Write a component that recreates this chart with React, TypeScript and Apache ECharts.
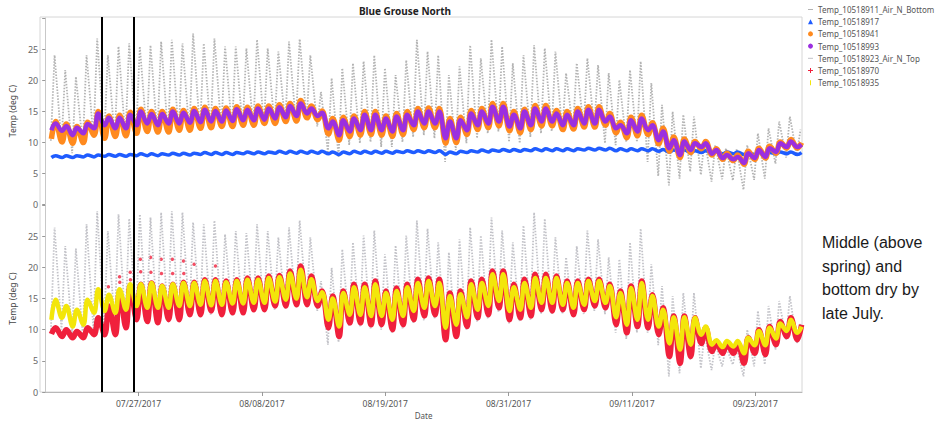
import React, { useEffect, useRef } from 'react';
import * as echarts from 'echarts';

// Day index: days since 07/18/2017 00:00. Daily values start on day 1 (07/19/2017).
const firstDay = 1;

// Top panel: Temp_10518911_Air_N_Bottom (air, grey)
const air911Max = [24.0,21.6,20.5,24.0,26.7,24.0,25.4,25.9,25.4,25.6, 26.2,26.5,25.9,27.5,25.9,26.7,25.4,25.4,25.1,26.5, 25.1,24.6,26.2,26.6,24.0,18.1,20.3,21.9,22.7,23.0, 24.0,21.9,20.8,23.2,26.5,24.6,24.0,20.8,22.2,25.6, 23.5,26.5,25.4,22.7,24.0,25.6,25.1,24.6,21.1,22.7, 23.5,22.4,21.1,20.0,21.6,23.0,19.5,16.0,14.9,14.4, 14.1,10.5,9.5,9.0,8.8,9.5,11.4,12.2,13.3,14.1, 12.0];
const air911Min = [10.2,9.8,8.2,9.6,10.6,10.3,10.6,10.6,11.0,11.3, 11.2,11.2,11.5,11.5,11.8,11.9,12.1,12.1,12.3,12.3, 12.6,12.6,12.9,13.0,13.5,12.5,8.4,7.6,9.5,9.8, 10.0,9.2,9.2,10.0,10.8,11.1,10.6,6.8,8.7,9.8, 10.6,11.4,11.7,10.0,9.8,10.8,11.4,11.7,11.7,12.0, 12.2,12.2,9.8,9.5,10.0,10.0,6.8,4.5,3.0,4.1, 5.2,4.7,3.6,4.0,3.8,2.3,3.9,4.1,6.5,7.5, 8.0];

// Temp_10518917 (blue)
const t917Max = [7.8,7.8,7.8,7.9,7.9,8.0,8.0,8.0,8.1,8.1, 8.1,8.2,8.2,8.2,8.3,8.3,8.3,8.3,8.4,8.4, 8.4,8.5,8.5,8.5,8.5,8.5,8.4,8.4,8.5,8.5, 8.5,8.5,8.5,8.6,8.6,8.6,8.6,8.4,8.5,8.6, 8.7,8.7,8.8,8.8,8.8,8.9,8.9,8.9,8.9,8.9, 9.0,9.0,9.0,8.9,8.9,8.9,8.9,8.8,8.7,8.7, 8.6,8.6,8.5,8.4,8.4,8.3,8.3,8.3,8.4,8.4, 8.3];
const t917Min = [7.5,7.5,7.5,7.6,7.6,7.7,7.7,7.7,7.8,7.8, 7.8,7.9,7.9,7.9,8.0,8.0,8.0,8.0,8.1,8.1, 8.1,8.2,8.2,8.2,8.2,8.2,8.1,8.0,8.1,8.2, 8.2,8.2,8.2,8.3,8.3,8.3,8.3,8.0,8.1,8.3, 8.4,8.4,8.5,8.5,8.5,8.6,8.6,8.6,8.6,8.6, 8.7,8.7,8.7,8.6,8.6,8.6,8.6,8.5,8.4,8.4, 8.3,8.3,8.2,8.1,8.1,8.0,8.0,8.0,8.1,8.1, 8.0];

// Temp_10518941 (orange)
const t941Max = [13.3,12.9,12.5,13.2,14.9,14.2,14.3,14.8,15.3,14.9, 14.9,15.3,15.1,15.4,15.6,15.4,15.5,15.7,15.6,15.8, 15.8,16.0,16.2,16.7,15.8,15.0,13.8,14.0,14.2,14.9, 14.9,14.2,14.6,14.9,15.4,15.5,15.4,13.8,14.0,15.1, 15.4,16.2,16.2,14.9,15.3,15.9,15.9,15.1,14.9,15.4, 15.7,15.7,14.6,13.2,14.0,14.3,13.1,12.2,10.8,10.5, 10.1,10.1,8.9,8.2,7.9,8.5,9.0,9.3,10.0,10.4, 9.9];
const t941Min = [10.5,10.0,9.8,9.9,11.1,10.6,10.9,11.0,11.4,11.7, 11.6,11.6,11.9,11.9,12.2,12.3,12.5,12.5,12.7,12.7, 13.0,13.0,13.3,13.4,13.9,13.6,11.3,10.3,10.9,11.1, 11.2,11.1,10.9,11.2,12.0,12.3,12.3,9.8,9.9,11.2, 12.0,12.3,12.6,11.8,11.5,12.0,12.6,12.6,12.0,12.1, 12.4,12.4,12.7,11.5,10.7,11.0,11.2,9.7,8.5,7.5, 8.3,8.9,7.9,7.2,7.0,6.4,7.2,7.4,8.2,9.0, 9.0];

// Temp_10518993 (purple)
const t993Max = [13.0,12.6,12.3,12.9,14.6,13.9,13.9,14.4,14.9,14.5, 14.5,14.9,14.7,15.0,15.2,15.0,15.1,15.3,15.2,15.4, 15.4,15.6,15.8,16.2,15.4,14.7,13.3,13.5,13.8,14.4, 14.4,13.8,14.1,14.4,14.9,14.9,14.9,13.3,13.5,14.6, 14.9,15.7,15.7,14.4,14.9,15.4,15.4,14.6,14.4,14.9, 15.2,15.2,14.1,12.7,13.5,13.8,12.7,11.7,10.3,10.1, 9.8,9.8,8.7,7.9,7.6,8.2,8.7,9.0,9.8,10.1, 9.6];
const t993Min = [11.9,11.8,11.1,11.4,12.2,12.7,12.2,12.2,12.7,13.0, 12.7,13.0,13.0,13.1,13.2,13.3,13.3,13.4,13.5,13.5, 13.6,13.8,14.0,14.2,14.6,14.2,12.2,11.1,11.7,11.9, 11.9,11.9,11.7,11.9,12.7,13.0,13.0,10.6,10.6,11.9, 12.7,13.0,13.3,12.5,12.2,12.7,13.3,13.3,12.7,12.7, 13.0,13.0,13.3,12.2,11.4,11.7,11.9,10.3,9.0,7.9, 8.7,9.2,8.1,7.4,7.2,6.6,7.4,7.6,8.4,9.2, 9.2];

// Bottom panel: Temp_10518923_Air_N_Top (air, light grey)
const air923Max = [26.4,23.4,23.0,26.9,29.0,25.8,28.5,27.8,28.5,28.0, 28.8,29.0,28.8,27.2,26.9,27.5,25.3,25.8,25.5,26.9, 25.8,24.8,26.4,27.5,24.8,17.8,19.9,22.9,24.0,25.1, 25.9,22.1,23.5,25.1,27.5,26.2,24.0,22.4,24.5,26.4, 25.1,28.0,25.9,24.0,26.7,28.8,27.8,24.8,21.6,23.4, 25.9,24.5,21.6,21.3,24.0,26.2,20.5,17.0,15.4,15.9, 15.9,9.5,7.8,7.3,7.3,10.0,13.0,13.8,14.6,15.4, 11.0];
const air923Min = [9.5,10.0,9.3,9.0,10.0,10.5,10.8,11.0,11.6,11.0, 11.0,11.3,11.4,12.0,12.0,12.4,12.2,12.3,12.4,12.8, 12.9,13.2,13.4,13.6,13.8,13.0,7.6,8.0,10.5,10.5, 10.2,10.0,9.5,10.2,11.0,11.5,11.8,8.0,8.4,10.0, 11.3,11.8,12.8,11.0,11.3,11.6,12.5,12.5,12.5,12.0, 12.5,13.0,12.5,9.5,8.5,9.5,9.5,7.5,2.5,3.0, 5.2,3.8,3.5,4.1,4.4,2.5,4.1,4.4,6.8,8.4, 7.8];

// Temp_10518970 (red)
const r970Max = [10.3,10.0,9.7,10.3,11.9,13.8,16.0,17.0,17.3,17.5, 17.0,17.3,17.6,17.6,18.0,18.0,17.8,18.0,18.3,18.3, 18.6,18.7,19.4,20.2,18.6,16.2,15.4,16.2,17.3,17.3, 17.8,16.2,16.7,17.3,18.1,18.3,18.1,15.9,16.2,17.8, 18.1,19.4,19.4,17.3,18.1,18.9,18.9,18.6,17.8,17.8, 18.1,18.1,17.3,16.2,17.0,17.8,15.6,13.5,12.2,12.2, 11.9,10.3,7.8,7.8,7.8,8.7,10.0,10.5,11.3,11.9, 10.8];
const r970Min = [9.3,8.9,8.7,8.7,9.2,9.2,9.2,10.3,11.6,11.3, 11.1,11.6,11.6,12.4,12.4,13.0,12.4,12.7,12.7,13.2, 13.2,13.8,13.8,14.0,14.0,13.8,10.3,8.9,11.1,11.1, 10.8,10.8,10.0,10.8,11.6,12.2,12.4,8.4,8.9,10.5, 11.9,12.4,13.5,11.6,11.9,12.2,13.2,13.0,13.2,12.4, 13.2,13.8,13.5,10.8,9.5,10.5,10.3,9.2,5.7,4.6, 5.7,7.8,6.5,6.2,6.2,4.6,6.2,6.0,7.6,8.9, 8.4];
// isolated high readings of Temp_10518970 (day, value)
const r970SpikeDay = [6.65, 7.7, 7.72, 8.7, 8.72, 9.65, 9.68, 10.6, 10.63, 11.6, 11.63, 12.65, 12.68, 13.7, 13.73, 14.7, 16.7];
const r970SpikeVal = [16.9, 18.5, 17.6, 19.2, 18.0, 21.3, 19.3, 21.6, 19.2, 21.3, 19.0, 21.3, 19.0, 21.0, 19.0, 20.5, 20.2];

// Temp_10518935 (yellow)
const y935Max = [14.8,13.8,13.2,14.8,16.5,15.6,16.5,17.3,17.3,17.5, 17.0,17.3,17.5,17.5,17.8,17.8,17.6,17.8,18.0,18.0, 18.3,18.4,19.0,19.6,18.1,16.0,15.0,15.9,16.8,16.8, 17.3,15.9,16.2,16.8,17.5,17.8,17.5,15.4,15.7,17.3, 17.5,18.9,18.9,16.8,17.5,18.3,18.3,18.3,17.5,17.5, 17.8,17.8,17.0,15.9,16.7,17.5,15.4,13.2,12.0,12.0, 11.9,10.5,8.3,8.2,8.2,8.7,9.8,10.3,11.0,11.6, 10.5];
const y935Min = [11.6,11.9,10.5,10.8,12.7,13.0,12.7,13.2,13.8,13.5, 13.5,13.5,13.8,13.8,14.0,13.9,14.0,14.2,14.2,14.3, 14.3,14.5,14.8,15.0,15.2,14.6,11.6,10.5,12.4,12.4, 12.2,12.2,11.6,12.2,13.0,13.5,13.8,10.3,10.8,12.0, 13.2,13.8,14.6,13.0,13.2,13.5,14.3,14.3,14.0,13.5, 14.0,14.6,14.3,12.0,10.8,11.6,11.6,10.5,7.8,6.8, 7.6,9.2,7.6,7.2,7.3,6.2,7.5,7.5,8.6,9.8, 9.5];

// Axis: date ticks every 1,000,000 s starting 07/27/2017 11:33
const xMin = 0.72;
const xMax = 71.74;
const tickStart = 9.4815;
const tickStep = 11.574;
const tickCount = 6;
// Vertical reference lines (day values)
const refLineDays = [6.45, 9.43];

const seriesNames = [
  'Temp_10518911_Air_N_Bottom',
  'Temp_10518917',
  'Temp_10518941',
  'Temp_10518993',
  'Temp_10518923_Air_N_Top',
  'Temp_10518970',
  'Temp_10518935',
];

const FONT = '"Noto Sans", "Open Sans", sans-serif';

function pairs(minArr: number[], maxArr: number[], tMin: number, tMax: number) {
  const out: number[][] = [];
  minArr.forEach((v, i) => {
    const d = firstDay + i;
    out.push([d + tMin, v]);
    out.push([d + tMax, maxArr[i]]);
  });
  return out;
}

function fmtDate(val: number) {
  const base = Date.UTC(2017, 6, 18);
  const dt = new Date(base + Math.floor(val + 1e-6) * 86400000);
  const mm = String(dt.getUTCMonth() + 1).padStart(2, '0');
  const dd = String(dt.getUTCDate()).padStart(2, '0');
  return `${mm}/${dd}/${dt.getUTCFullYear()}`;
}

export default function App() {
  const ref = useRef<HTMLDivElement>(null);
  useEffect(() => {
    if (!ref.current) return;
    const chart = echarts.init(ref.current, null, { renderer: 'svg' });
    const ticks: number[] = [];
    for (let k = 0; k < tickCount; k++) ticks.push(tickStart + k * tickStep);

    const yAxisCommon = (gi: number) => ({
      gridIndex: gi,
      type: 'value',
      min: 0,
      max: 30,
      interval: 5,
      axisLine: { show: true, lineStyle: { color: '#c8c8c8' } },
      axisTick: { show: true, length: 3, lineStyle: { color: '#999' } },
      axisLabel: {
        fontSize: 9,
        color: '#666',
        fontFamily: FONT,
        margin: 7,
        formatter: (v: number) => (v === 30 ? '' : String(v)),
      },
      splitLine: { show: false },
      name: 'Temp (deg C)',
      nameLocation: 'middle',
      nameGap: 25,
      nameTextStyle: { fontSize: 8.5, color: '#444', fontFamily: FONT },
    });

    const soil = (name: string, gi: number, minA: number[], maxA: number[], color: string, width: number) => ({
      name,
      type: 'line',
      xAxisIndex: gi,
      yAxisIndex: gi,
      data: pairs(minA, maxA, 0.3, 0.7),
      showSymbol: false,
      symbol: 'none',
      smooth: 0.4,
      itemStyle: { color },
      lineStyle: { color, width },
      silent: true,
    });

    const air = (name: string, gi: number, minA: number[], maxA: number[], color: string) => ({
      name,
      type: 'line',
      xAxisIndex: gi,
      yAxisIndex: gi,
      data: pairs(minA, maxA, 0.25, 0.6),
      showSymbol: false,
      symbol: 'none',
      itemStyle: { color },
      lineStyle: { color, width: 1.8, type: [1.5, 1.5] },
      silent: true,
    });

    const option: any = {
      animation: false,
      backgroundColor: '#ffffff',
      textStyle: { fontFamily: FONT },
      grid: [
        { left: 40, right: 140, top: 18, height: 186 },
        { left: 40, right: 140, top: 205, height: 187 },
        { left: 40, right: 140, top: 17, height: 375, show: true, borderColor: '#d6d6d6', borderWidth: 1, backgroundColor: 'transparent' },
      ],
      xAxis: [
        { gridIndex: 0, type: 'value', min: xMin, max: xMax, show: false },
        {
          gridIndex: 1,
          type: 'value',
          min: xMin,
          max: xMax,
          axisLine: { show: true, lineStyle: { color: '#b8b8b8' } },
          axisTick: { show: true, customValues: ticks, length: 4, lineStyle: { color: '#999' } },
          axisLabel: { customValues: ticks, formatter: (v: number) => fmtDate(v), fontSize: 8.5, color: '#555', fontFamily: FONT, margin: 7 },
          splitLine: { show: false },
          name: 'Date',
          nameLocation: 'middle',
          nameGap: 19,
          nameTextStyle: { fontSize: 8, color: '#555', fontFamily: FONT },
        },
        { gridIndex: 2, type: 'value', min: xMin, max: xMax, show: false },
      ],
      yAxis: [
        yAxisCommon(0),
        yAxisCommon(1),
        { gridIndex: 2, type: 'value', min: 0, max: 1, show: false },
      ],
      legend: {
        orient: 'vertical',
        left: 808,
        top: 4,
        padding: 0,
        itemWidth: 5,
        itemHeight: 5,
        itemGap: 1.2,
        selectedMode: false,
        textStyle: { fontSize: 8, color: '#555', fontFamily: FONT, lineHeight: 11 },
        data: [
          { name: seriesNames[0], icon: 'path://M0,4 H10 V6 H0 Z' },
          { name: seriesNames[1], icon: 'triangle' },
          { name: seriesNames[2], icon: 'circle' },
          { name: seriesNames[3], icon: 'circle' },
          { name: seriesNames[4], icon: 'path://M0,4 H10 V6 H0 Z' },
          { name: seriesNames[5], icon: 'path://M4,0 H6 V4 H10 V6 H6 V10 H4 V6 H0 V4 H4 Z' },
          { name: seriesNames[6], icon: 'path://M4,0 H6 V10 H4 Z' },
        ],
      },
      graphic: [
        {
          type: 'text',
          x: 405,
          y: 11,
          style: { text: 'Blue Grouse North', textAlign: 'center', textVerticalAlign: 'middle', font: `bold 10px ${FONT}`, fill: '#222' },
        },
        {
          type: 'text',
          x: 822,
          y: 231,
          style: {
            text: 'Middle (above\nspring) and\nbottom dry by\nlate July.',
            font: '16px "Liberation Sans", Arial, sans-serif',
            lineHeight: 23.5,
            fill: '#1a1a1a',
          },
        },
      ],
      series: [
        air(seriesNames[0], 0, air911Min, air911Max, '#b3b3b3'),
        soil(seriesNames[1], 0, t917Min, t917Max, '#1f5cff', 3.5),
        soil(seriesNames[2], 0, t941Min, t941Max, '#ff8a1e', 5.5),
        soil(seriesNames[3], 0, t993Min, t993Max, '#9b2fe0', 4.5),
        air(seriesNames[4], 1, air923Min, air923Max, '#c2c2c8'),
        soil(seriesNames[5], 1, r970Min, r970Max, '#f0203c', 5.5),
        soil(seriesNames[6], 1, y935Min, y935Max, '#f3e60a', 4.5),
        {
          name: seriesNames[5],
          type: 'scatter',
          xAxisIndex: 1,
          yAxisIndex: 1,
          data: r970SpikeDay.map((d, i) => [d, r970SpikeVal[i]]),
          symbolSize: 3.5,
          itemStyle: { color: '#f0203c' },
          silent: true,
        },
        {
          name: 'refLines',
          type: 'line',
          xAxisIndex: 2,
          yAxisIndex: 2,
          data: [[refLineDays[0], 0.5]],
          showSymbol: false,
          lineStyle: { opacity: 0 },
          silent: true,
          markLine: {
            silent: true,
            symbol: ['none', 'none'],
            label: { show: false },
            lineStyle: { color: '#000', width: 2, type: 'solid' },
            data: refLineDays.map((d) => ({ xAxis: d })),
          },
        },
      ],
    };
    chart.setOption(option);
    return () => chart.dispose();
  }, []);
  return (
    <div
      ref={ref}
      style={{ position: 'fixed', left: 0, top: 0, width: 942, height: 421, background: '#fff' }}
    />
  );
}
